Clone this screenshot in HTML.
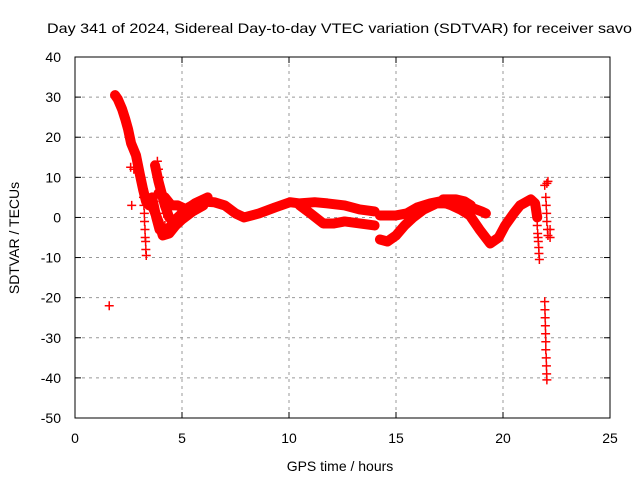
<!DOCTYPE html>
<html><head><meta charset="utf-8"><style>
body{margin:0;background:#fff}
svg{display:block;font-family:"Liberation Sans",sans-serif;font-size:14px}
</style></head><body>
<svg id="c" width="640" height="480">
<text x="47" y="33" textLength="585" lengthAdjust="spacingAndGlyphs">Day 341 of 2024, Sidereal Day-to-day VTEC variation (SDTVAR) for receiver savo</text>
<text x="340" y="471" text-anchor="middle">GPS time / hours</text>
<text transform="translate(19,238) rotate(-90)" text-anchor="middle">SDTVAR / TECUs</text>
<g id="grid"></g><g id="marks"></g>
<rect x="75" y="57" width="535" height="361" fill="none" stroke="#000"/>
</svg>
<script>
const xTicks=[0,5,10,15,20,25];
const yTicks=[40,30,20,10,0,-10,-20,-30,-40,-50];
// bands: [hour, TECU]
const bandA=[[1.87,30.5],[2.0,29.5],[2.2,27],[2.35,24.5],[2.48,22],[2.62,18.5],[2.85,15.5],[3.04,10.5],[3.18,7],[3.32,4],[3.46,3]];
const bandB=[[3.74,13],[3.9,9],[4.05,6],[4.2,3],[4.4,0],[4.6,-1],[4.9,0.5],[5.3,2.5],[5.84,4],[6.5,3.8],[7.0,3],[7.5,1],[7.9,0],[8.6,1],[9.35,2.5],[10.05,3.8],[10.5,3.5],[11.2,3.8],[11.8,3.5],[12.6,3],[13.3,2],[14.0,1.5]];
const bandC=[[3.6,5],[3.8,0],[3.95,-3],[4.2,-3.5],[4.5,-2],[4.8,-1]];
const bandH=[[3.6,3],[3.9,-1],[4.1,-4.5],[4.4,-4],[4.7,-2],[5.0,-0.5],[5.5,1.5],[6.0,3]];
const bandI=[[3.9,6],[4.2,5],[4.5,3],[4.8,3],[5.2,2],[5.6,3.5],[6.2,5]];
const bandD=[[10.5,3],[11.0,1],[11.6,-1.5],[12.1,-1.5],[12.6,-1],[13.3,-1.5],[14.0,-2]];
const bandE=[[14.25,0.5],[14.6,0.5],[15.0,0.5],[15.5,1],[16.0,2.5],[16.6,3.5],[17.06,4],[17.6,3],[18.0,2],[18.45,0.5],[18.9,-3],[19.4,-6.5],[19.8,-5],[20.1,-2],[20.5,1],[20.8,3],[21.3,4.5],[21.5,3.5],[21.6,0]];
const bandF=[[14.25,-5.5],[14.6,-6],[15.0,-4.5],[15.4,-2],[15.8,0],[16.3,2],[16.9,3.5],[17.5,3.5],[18.0,3.5],[18.5,2.5],[19.0,1.5],[19.2,1]];
const bandG=[[17.2,4.5],[17.8,4.5],[18.2,4],[18.5,3]];
// scattered marker points
const pts=[[1.6,-22],[2.65,3],[2.6,12.5],[2.75,12],
[3.2,5],[3.22,3],[3.24,1],[3.25,-1],[3.27,-3],[3.28,-5],[3.3,-6],[3.31,-8],[3.33,-9.5],
[3.85,14],[3.9,12],[3.95,10],[4.1,4],[4.15,1],[4.2,-2],[4.3,-4],
[21.6,-2],[21.62,-4],[21.64,-5],[21.65,-6],[21.67,-7.5],[21.68,-9],[21.7,-10.5],
[21.95,8],[22.05,8.5],[22.1,9],[22.0,5],[22.02,3],[22.04,1],[22.05,-1],[22.08,-3],[22.1,-4.5],[22.2,-3],[22.2,-5],
[21.95,-21],[21.96,-23],[21.97,-25],[21.98,-27],[21.99,-29],[22.0,-31],[22.0,-33],[22.02,-35],[22.03,-37],[22.04,-39],[22.05,-40.5]];
const bands=[bandA,bandB,bandC,bandH,bandI,bandD,bandE,bandF,bandG];
const X=h=>75+h*535/25, Y=v=>418-(v+50)*361/90;
const NS="http://www.w3.org/2000/svg";
const grid=document.getElementById('grid'), marks=document.getElementById('marks'), svg=document.getElementById('c');
function mk(tag,a,parent){const e=document.createElementNS(NS,tag);for(const k in a)e.setAttribute(k,a[k]);parent.appendChild(e);return e;}
xTicks.forEach(t=>{const x=X(t);
 if(t>0&&t<25){const g=mk('line',{x1:x,x2:x,y1:57,y2:418,stroke:'#999','stroke-dasharray':'3,4'},grid);
 
 }
 mk('line',{x1:x,x2:x,y1:418,y2:412,stroke:'#000'},grid);mk('line',{x1:x,x2:x,y1:57,y2:63,stroke:'#000'},grid);
 const l=mk('text',{x:x,y:443,'text-anchor':'middle'},svg);l.textContent=t;
 
 });
yTicks.forEach(t=>{const y=Y(t);
 if(t<40&&t>-50){const g=mk('line',{x1:75,x2:610,y1:y,y2:y,stroke:'#999','stroke-dasharray':'3,4'},grid);
 
 }
 mk('line',{x1:75,x2:81,y1:y,y2:y,stroke:'#000'},grid);mk('line',{x1:610,x2:604,y1:y,y2:y,stroke:'#000'},grid);
 const l=mk('text',{x:61,y:y+5,'text-anchor':'end'},svg);l.textContent=t;
 
 });
function plus(h,v){const x=X(h),y=Y(v);
 const p=mk('path',{d:`M${x-4.5},${y}H${x+4.5}M${x},${y-4.5}V${y+4.5}`,stroke:'#f00','stroke-width':1.5},marks);
 
 }
bands.forEach(b=>{
 const pl=mk('polyline',{points:b.map(p=>X(p[0])+','+Y(p[1])).join(' '),fill:'none',stroke:'#f00','stroke-width':10,'stroke-linejoin':'round','stroke-linecap':'round'},marks);
 
 
 b.forEach(p=>plus(p[0],p[1]));});
pts.forEach(p=>plus(p[0],p[1]));
</script>
</body></html>
